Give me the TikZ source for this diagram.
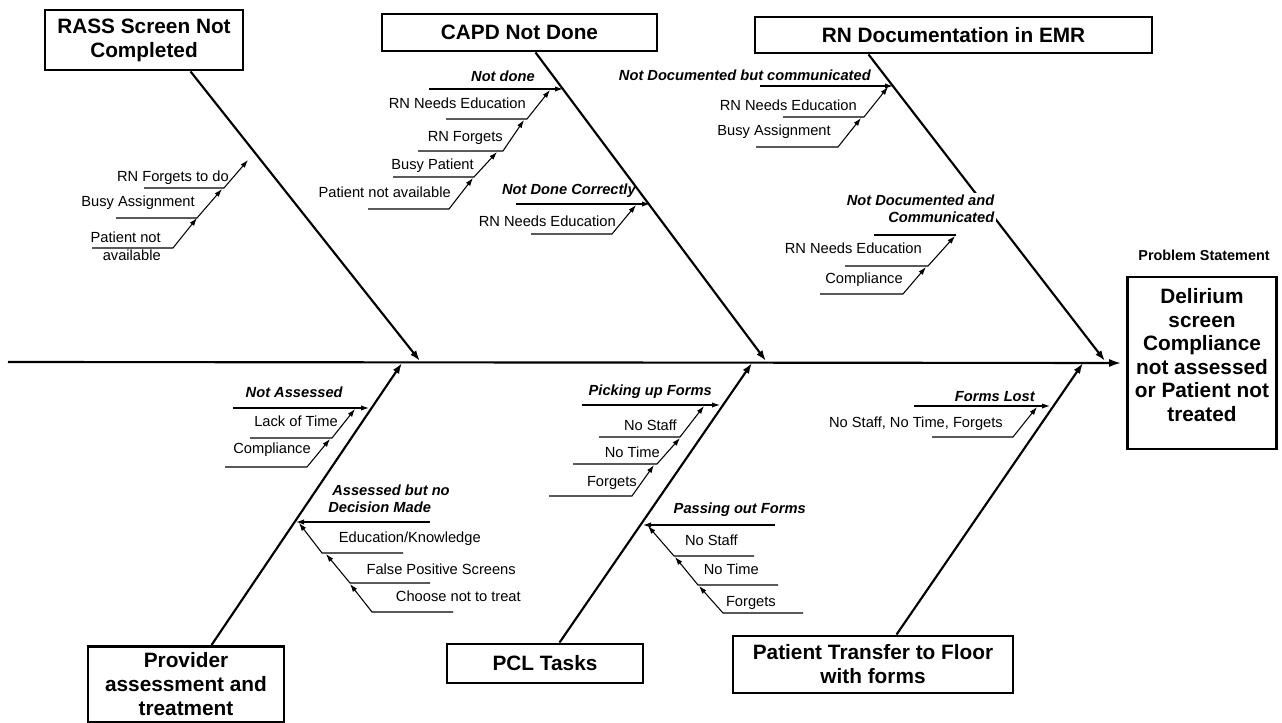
\documentclass[tikz,border=0pt]{standalone}
\usepackage{fontspec}
\setmainfont{Liberation Sans}
\usetikzlibrary{arrows.meta,calc}
\newcommand{\lblfont}{\fontsize{11}{12.8}\selectfont}
\newcommand{\hdfont}{\fontsize{11}{12.8}\selectfont\bfseries\itshape}
\newcommand{\ttlfont}{\fontsize{15.6}{18}\selectfont\bfseries}
\begin{document}
\begin{tikzpicture}[x=0.75pt,y=-0.75pt,
  box/.style={draw, line width=2.2pt, align=center, font=\ttlfont, inner sep=0pt},
  lbl/.style={font=\lblfont, inner sep=0pt, anchor=mid east},
  hd/.style={font=\hdfont, inner sep=0pt, anchor=mid east},
  bone/.style={line width=1.6pt, -{Latex[length=8pt,width=5.5pt]}},
  spine/.style={line width=1.6pt, -{Latex[length=9pt,width=6pt]}},
  sub/.style={line width=0.8pt, -{Latex[length=6pt,width=4pt]}},
  plain/.style={line width=0.8pt}]
\useasboundingbox (0,0) rectangle (1282,723);

% ---- category boxes
\node[box, minimum width=148.5pt, minimum height=45pt] (rass) at (144,40) {RASS Screen Not\\Completed};
\node[box, minimum width=206.25pt, minimum height=27.75pt] (capd) at (519.5,32.5) {CAPD Not Done};
\node[box, minimum width=297.75pt, minimum height=27pt] (rndoc) at (953.5,35) {RN Documentation in EMR};
\node[box, minimum width=147pt, minimum height=57pt] (prov) at (186,684.5) {Provider\\assessment and\\treatment};
\node[box, minimum width=147pt, minimum height=29.25pt] (pcl) at (545,663.5) {PCL Tasks};
\node[box, minimum width=210pt, minimum height=42.75pt] (trans) at (873,664.5) {Patient Transfer to Floor\\with forms};

% ---- problem box
\node[box, minimum width=112pt, minimum height=129pt] (prob) at (1202,363) {};
\node[font=\fontsize{15.6}{17.6}\selectfont\bfseries, align=center, inner sep=0pt] (probtxt) at (1202,355) {Delirium\\screen\\Compliance\\not assessed\\or Patient not\\treated};
\node[font=\fontsize{10.8}{12.8}\selectfont\bfseries, inner sep=0pt] (pstat) at (1204,255) {Problem Statement};

% ---- spine
\coordinate (spL) at (8,362);
\draw[spine, shorten >=3.5pt] (spL) -- (prob.west);

% ---- bone tips on the spine
\coordinate (tRass) at (420,361);
\coordinate (tCapd) at (766,361);
\coordinate (tDoc) at (1105,361);
\coordinate (tProv) at (402,363);
\coordinate (tPcl) at (752,363);
\coordinate (tTrans) at (1083,363);

% ---- main bones
\draw[bone] ($(rass.south west)+(147,0)$) -- (tRass);
\draw[bone] ($(capd.south west)+(155,0)$) -- (tCapd);
\draw[bone] ($(rndoc.south west)+(115,0)$) -- (tDoc);
\draw[bone] ($(prov.north west)+(125,0)$) -- (tProv);
\draw[bone] ($(pcl.north west)+(114,0)$) -- (tPcl);
\draw[bone] ($(trans.north west)+(165,0)$) -- (tTrans);

% ---- RASS causes
\draw[sub] (92,248) -- (173,248) -- (197,218);
\draw[sub] (116,218) -- (197,218) -- (222,189);
\draw[sub] (144,188) -- (224,188) -- (248,160);
\node[lbl] (r1) at (229,178) {RN Forgets to do};
\node[lbl] (r2) at (195,203) {Busy Assignment};
\node[font=\fontsize{11}{13.5}\selectfont, inner sep=0pt, align=right, anchor=east] (r3) at (161,246) {Patient not\\available};

% ---- CAPD causes
\draw[sub] (429,89) -- (563,89);
\draw[sub] (446,119) -- (527,119) -- (550,90);
\draw[sub] (418,151) -- (503,151) -- (524,120);
\draw[sub] (393,177) -- (474,177) -- (497,152);
\draw[sub] (368,209) -- (449,209) -- (473,178);
\node[hd] (c0) at (535,78) {Not done};
\node[lbl] (c1) at (526,105) {RN Needs Education};
\node[lbl] (c2) at (503,138) {RN Forgets};
\node[lbl] (c3) at (474,166) {Busy Patient};
\node[lbl] (c4) at (451,194) {Patient not available};
\draw[sub] (516,204) -- (650,204);
\draw[sub] (531,234) -- (612,234) -- (636,205);
\node[hd] (c5) at (636,191) {Not Done Correctly};
\node[lbl] (c6) at (616,223) {RN Needs Education};

% ---- RN documentation causes
\draw[sub] (760,86) -- (893,86);
\draw[sub] (783,117) -- (864,117) -- (888,87);
\draw[sub] (756,147) -- (838,147) -- (861,118);
\node[hd] (d0) at (871,77) {Not Documented but communicated};
\node[lbl] (d1) at (857,107) {RN Needs Education};
\node[lbl] (d2) at (831,132) {Busy Assignment};
\node[font=\hdfont, inner sep=1.5pt, align=right, anchor=east, fill=white] (d3) at (996.5,208.5) {Not Documented and\\Communicated};
\draw[plain] (874,235) -- (956,235);
\draw[sub] (845,266) -- (928,266) -- (955,236);
\draw[sub] (820,294) -- (903,294) -- (926,267);
\node[lbl] (d4) at (922,250) {RN Needs Education};
\node[lbl] (d5) at (903,280) {Compliance};

% ---- Provider causes
\draw[sub] (233,408) -- (369,408);
\draw[sub] (250,438) -- (332,438) -- (355,409);
\draw[sub] (225,467) -- (307,467) -- (330,439);
\node[hd] (p0) at (343,394) {Not Assessed};
\node[lbl] (p1) at (338,423) {Lack of Time};
\node[lbl] (p2) at (311,450) {Compliance};
\draw[sub] (430,522) -- (296,522);
\draw[sub] (403,553) -- (322,553) -- (299,523);
\draw[sub] (430,583) -- (350,583) -- (326,554);
\draw[sub] (453,612) -- (372,612) -- (350,584);
\node[font=\hdfont, inner sep=0pt, align=left, anchor=west] (p3) at (328,499) {\ Assessed but no\\Decision Made};
\node[lbl] (p4) at (481,539) {Education/Knowledge};
\node[lbl] (p5) at (516,571) {False Positive Screens};
\node[lbl] (p6) at (521,598) {Choose not to treat};

% ---- PCL causes
\draw[sub] (582,405) -- (720,405);
\draw[sub] (599,437) -- (680,437) -- (704,406);
\draw[sub] (573,464) -- (657,464) -- (680,438);
\draw[sub] (549,496) -- (632,496) -- (654,465);
\node[hd] (k0) at (712,392) {Picking up Forms};
\node[lbl] (k1) at (677,427) {No Staff};
\node[lbl] (k2) at (660,454) {No Time};
\node[lbl] (k3) at (637,483) {Forgets};
\draw[sub] (775,525) -- (643,525);
\draw[sub] (754,556) -- (674,556) -- (648,526);
\draw[sub] (778,585) -- (698,585) -- (675,557);
\draw[sub] (803,613) -- (723,613) -- (699,586);
\node[hd] (k4) at (806,510) {Passing out Forms};
\node[lbl] (k5) at (738,542) {No Staff};
\node[lbl] (k6) at (759,571) {No Time};
\node[lbl] (k7) at (776,603) {Forgets};

% ---- Transfer causes
\draw[sub] (914,406) -- (1050,406);
\draw[sub] (932,437) -- (1013,437) -- (1037,407);
\node[hd] (f0) at (1035,398) {Forms Lost};
\node[lbl] (f1) at (1003,424) {No Staff, No Time, Forgets};
\end{tikzpicture}
\end{document}
